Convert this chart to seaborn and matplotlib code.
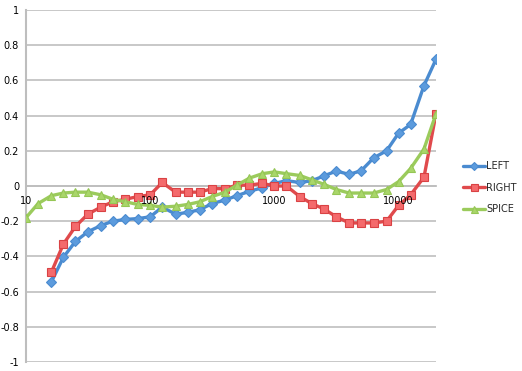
import numpy as np
import pandas as pd
import matplotlib
matplotlib.use("Agg")
import matplotlib.pyplot as plt
import seaborn as sns
from matplotlib.lines import Line2D

freqs = [10, 12.5, 16, 20, 25, 31.5, 40, 50, 63, 80, 100, 125, 160, 200, 250,
         315, 400, 500, 630, 800, 1000, 1250, 1600, 2000, 2500, 3150, 4000,
         5000, 6300, 8000, 10000, 12500, 16000, 20000]

left = [-0.545, -0.405, -0.315, -0.26, -0.225, -0.20, -0.19, -0.185, -0.175,
        -0.12, -0.16, -0.15, -0.135, -0.10, -0.08, -0.055, -0.03, -0.01,
        0.015, 0.03, 0.02, 0.03, 0.057, 0.085, 0.066, 0.087, 0.16, 0.20,
        0.30, 0.35, 0.57, 0.72]
right = [-0.49, -0.33, -0.23, -0.16, -0.12, -0.09, -0.075, -0.06, -0.05,
         0.02, -0.035, -0.035, -0.035, -0.015, -0.015, 0.005, 0.005, 0.015,
         0.0, 0.0, -0.06, -0.10, -0.13, -0.175, -0.21, -0.21, -0.21, -0.20,
         -0.11, -0.05, 0.05, 0.41]
spice = [-0.18, -0.10, -0.055, -0.04, -0.035, -0.035, -0.05, -0.075, -0.09,
         -0.105, -0.11, -0.12, -0.115, -0.105, -0.09, -0.06, -0.035, 0.005,
         0.045, 0.07, 0.08, 0.07, 0.06, 0.035, 0.01, -0.02, -0.04, -0.04,
         -0.04, -0.02, 0.025, 0.10, 0.21, 0.41]

series = ["LEFT", "RIGHT", "SPICE"]
yticks = [-1, -0.8, -0.6, -0.4, -0.2, 0, 0.2, 0.4, 0.6, 0.8, 1]
ytick_labels = ["-1", "-0.8", "-0.6", "-0.4", "-0.2", "0", "0.2", "0.4", "0.6", "0.8", "1"]
xticks = [10, 100, 1000, 10000]
xtick_labels = ["10", "100", "1000", "10000"]

sns.set_style("white")
plt.rcParams['font.family'] = ['DejaVu Sans']

fig = plt.figure(figsize=(5.22, 3.71), dpi=100)
ax = fig.add_axes([26/522, 9/371, (436-26)/522, (362-10)/371])

styles = {
    "LEFT": dict(color="#4A8BD0", marker="D", mfc="#5C9BDD", mec="#4A8BD0", ms=5.2),
    "RIGHT": dict(color="#E04A4C", marker="s", mfc="#F46A6C", mec="#D94244", ms=6.3),
    "SPICE": dict(color="#9BCB5C", marker="^", mfc="#A9D66A", mec="#95C655", ms=6.3),
}
data = {"LEFT": (freqs[2:], left), "RIGHT": (freqs[2:], right), "SPICE": (freqs, spice)}

handles = []
for name in series:
    xs, ys = data[name]
    st = styles[name]
    df = pd.DataFrame({"f": xs, "v": ys})
    sns.lineplot(data=df, x="f", y="v", ax=ax, color=st["color"], lw=2.4,
                 marker=st["marker"], markersize=st["ms"],
                 markerfacecolor=st["mfc"], markeredgecolor=st["mec"],
                 markeredgewidth=0.8, zorder=3)
    handles.append(Line2D([], [], color=st["color"], lw=2.4, marker=st["marker"],
                          markersize=st["ms"] * 0.8, markerfacecolor=st["mfc"],
                          markeredgecolor=st["mec"], markeredgewidth=0.8, label=name))

ax.set_xscale("log")
ax.set_xlim(10, 20000)
ax.set_ylim(-1, 1)
ax.set_yticks(yticks)
ax.set_yticklabels(ytick_labels)
ax.set_xticks(xticks)
ax.set_xticklabels(xtick_labels)
ax.xaxis.set_minor_locator(matplotlib.ticker.NullLocator())
ax.set_xlabel("")
ax.set_ylabel("")

ax.grid(axis="y", color="#C4C4C4", lw=1.3)
ax.grid(axis="x", visible=False)
ax.set_axisbelow(True)
ax.xaxis.set_zorder(5)

for s in ["top", "right"]:
    ax.spines[s].set_visible(False)
ax.spines["bottom"].set_position(("data", 0))
ax.spines["bottom"].set_color("#BEBEBE")
ax.spines["bottom"].set_linewidth(1.3)
ax.spines["bottom"].set_zorder(0.6)
ax.spines["left"].set_color("#BEBEBE")
ax.spines["left"].set_linewidth(1.5)

ax.tick_params(axis="y", direction="out", length=3, width=1.2, color="#BEBEBE",
               labelsize=7, pad=2, labelcolor="black")
ax.tick_params(axis="x", direction="in", length=4, width=1.2, color="#BEBEBE",
               labelsize=7, pad=7, labelcolor="black")

ax.legend(handles=handles, loc="upper left", bbox_to_anchor=(463/522, (371-161)/371),
          bbox_transform=fig.transFigure, frameon=False, fontsize=7,
          handlelength=2.3, handletextpad=0.1, labelspacing=1.2,
          borderpad=0, borderaxespad=0)

fig.savefig("out.png", dpi=100)
